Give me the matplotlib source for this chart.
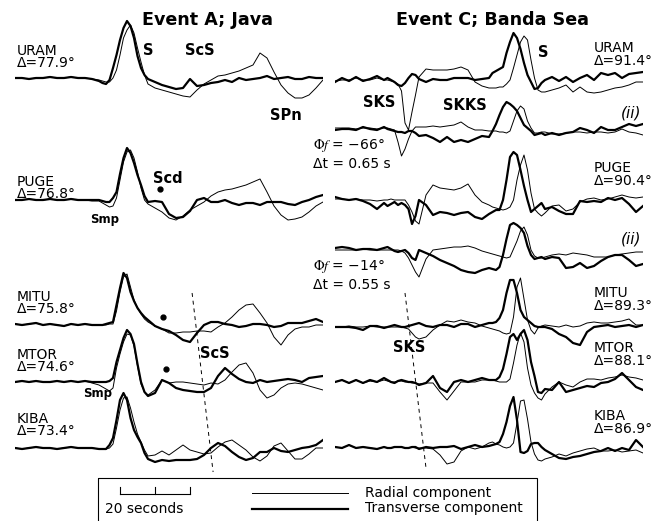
import numpy as np
import matplotlib
matplotlib.use('Agg')
import matplotlib.pyplot as plt
from matplotlib.patches import Rectangle

plt.rcParams['font.family'] = 'DejaVu Sans'
plt.rcParams['mathtext.fontset'] = 'stix'

# sample times (s) for the two events
t_a = [0, 2, 4, 6, 8, 10, 12, 14, 16, 18, 20, 22, 24, 25, 26, 27, 28, 29, 30, 31, 32, 33, 34, 35, 36, 37, 38,
       40, 42, 44, 46, 48, 50, 52, 54, 56, 58, 60, 62, 64, 66, 68, 70, 72, 74, 76, 78, 80, 82, 84, 86, 88]
t_c = [0, 2, 4, 6, 8, 10, 12, 14, 15, 16, 17, 18, 19, 20, 21, 22, 23, 24, 26, 28, 30, 32, 34, 36, 38, 40, 42, 44,
       45, 46, 47, 48, 49, 50, 51, 52, 53, 54, 55, 56, 57, 58, 59, 60, 62, 64, 66, 68, 70, 72, 74, 76, 78, 80, 82,
       84, 86, 88]

# ---- Event A; Java  (T = transverse, R = radial)
uram_a_T = [2,2,1,2,2,3,2,2,3,2,2,1,-1, -3,-4,0,12,25,40,52,59,54,42,24,12,5,1,
            -2,-5,-7,-9,-8,1,-6,-5,-3,-2,0,-2,2,0,1,2,4,1,2,3,1,1,3,2,2]
uram_a_R = [2,2,1,2,2,3,2,2,3,2,2,1,0, -1,-2,-2,2,10,25,42,50,55,47,32,18,5,-4,
            -8,-10,-12,-14,-16,-17,-10,-4,0,4,5,7,9,12,15,27,22,8,-5,-13,-18,-18,-15,-8,0]
puge_a_T = [0,0,1,0,0,1,0,0,1,0,0,0,0, -1,-2,-2,2,8,26,42,52,47,37,25,15,4,-2,
            -1,-2,-14,-18,-17,-11,0,2,-2,-2,0,-3,-5,-3,-3,-5,-2,-2,-2,-4,-5,-2,0,3,5]
puge_a_R = [0,0,1,0,0,1,0,0,1,0,0,-1,-1, -3,-5,-7,-6,2,20,38,48,50,42,28,12,0,-4,
            -8,-12,-18,-20,-16,-10,-6,-2,4,8,10,11,13,15,18,21,8,-6,-15,-20,-19,-17,-12,-6,-2]
mitu_a_T = [1,0,1,2,0,1,0,-1,1,0,1,0,0, 0,1,2,3,20,37,52,47,33,24,17,12,8,5,
            -1,-4,-6,-10,-15,-17,-8,0,3,3,1,0,-2,-1,1,1,0,-2,-1,2,2,2,4,6,3]
mitu_a_R = [1,0,1,2,0,1,0,-1,1,0,1,0,0, 0,0,1,1,14,33,48,51,38,25,17,11,6,3,
            -1,-4,-8,-8,-7,-7,-6,-6,-7,-2,2,8,15,20,21,12,2,-12,-20,-10,-4,-2,-2,0,0]
mtor_a_T = [0,1,0,1,0,0,1,0,1,0,1,0,0, 0,0,1,4,20,32,44,52,48,38,18,0,-10,-14,
            -11,2,-1,-6,-8,-9,-10,-10,-6,6,14,8,3,0,-1,2,0,1,2,3,2,0,4,5,6]
mtor_a_R = [0,1,0,1,0,0,1,0,1,0,1,-1,-3, -5,-7,-9,-6,14,28,40,48,47,36,16,-2,-10,-13,
            -8,2,-1,0,0,-1,-2,-3,-1,-2,2,10,17,19,9,-8,-16,-13,-6,-2,-1,-2,-4,-6,-8]
kiba_a_T = [0,-1,0,1,0,0,-1,0,1,0,0,0,-1, -1,-1,3,10,28,48,55,48,30,18,11,5,-5,-11,
            -14,-12,-13,-12,-12,-12,-11,-7,0,5,2,-4,-9,-12,-10,-4,-4,0,-3,-4,-2,0,1,3,8]
kiba_a_R = [0,-1,0,1,0,0,-1,0,1,0,0,0,-1, -1,-1,0,4,20,38,50,51,40,26,14,6,-2,-8,
            -7,-3,-7,-2,3,-2,-4,-6,-5,1,6,8,3,-2,-9,-13,-8,2,5,-3,-11,-11,-6,0,0]

# ---- Event C; Banda Sea
uram_c_T = [-2,2,-1,3,-1,1,4,0, 2,0,-2,-5,-6,-3,2,6,5,1, -2,1,0,0,2,2,2,0,1,2,
            7,9,11,13,27,38,47,42,31,17,5,-2,-9,-8,-3,0, 3,-1,3,-2,2,5,0,7,5,7,2,6,7,8]
uram_c_R = [-1,0,0,2,0,0,2,0, 0,-1,-2,-4,-11,-43,-50,-32,-15,3, 11,10,10,10,11,13,10,-2,-6,-8,
            -8,-8,-7,-7,-4,0,12,25,38,44,40,20,2,-10,-12,-12, -10,-8,-5,-12,-7,-12,-13,-12,-10,-8,-7,-5,-2,-2]
ii1_c_T = [-1,0,0,-1,2,0,-1,2, 0,-1,-2,-3,-3,-4,-2,-2,-4,-7, -6,-9,-13,-8,-13,-11,-13,-10,-7,-8,
           -2,5,14,22,27,25,22,18,11,4,1,-2,-6,-5,-4,-6, -4,-6,-4,-3,1,-1,-4,2,-1,-1,2,5,3,5]
ii1_c_R = [1,1,1,0,1,1,0,1, 1,0,-1,-13,-27,-20,-10,-2,2,2, 2,3,2,3,4,7,2,-1,-1,-2,
           -2,-2,-3,-3,-4,-2,8,18,23,20,8,1,-4,-4,-3,-3, -5,-5,-4,-3,-3,-4,-3,-3,-4,-3,0,-3,-4,-6]
puge_c_T = [3,1,0,1,-1,-4,-9,-3, -6,-4,-2,-5,-3,-5,-9,-24,-16,0, -5,-15,-12,-13,-15,-13,-12,-17,-19,-14,
            -12,-10,-10,0,20,43,48,45,30,14,0,-12,-9,-6,-3,-9, -7,-11,-14,-14,-1,-2,-1,-2,2,0,2,-4,-12,-6]
puge_c_R = [1,1,0,1,0,0,-1,0, 0,1,0,0,0,0,-5,-12,-21,-24, 5,15,12,11,10,12,16,5,-2,-5,
            -7,-8,-9,-10,-9,-7,0,20,35,45,30,7,-9,-13,-16,-13, -6,-5,-11,-9,-2,1,2,0,1,3,5,3,2,3]
ii2_c_T = [1,2,1,-1,0,0,-1,1, 2,0,-2,-3,-2,-1,-4,-9,-11,-1, -4,-7,-11,-14,-17,-21,-23,-24,-21,-19,
           -20,-21,-18,-6,10,24,26,24,21,16,3,-6,-10,-9,-8,-10, -8,-9,-19,-18,-14,-19,-17,-12,-8,-6,-6,-11,-17,-15]
ii2_c_R = [-1,-1,-1,-1,0,-1,-1,-1, -1,-1,-1,-1,-2,-4,-9,-16,-23,-28, -10,-1,0,1,2,2,3,1,-2,-4,
           -5,-6,-7,-8,-9,-8,0,8,18,22,14,-1,-7,-9,-9,-8, -6,-5,-6,-4,-5,-6,-8,-8,-8,-6,-5,-4,-3,-3]
mitu_c_T = [0,0,0,-1,-3,1,1,-1, 0,1,2,1,0,0,1,2,3,4, 1,0,2,2,0,3,3,0,2,4,
            4,5,9,17,34,47,47,34,17,10,7,4,1,0,0,0, -2,-7,-10,-16,-18,-5,0,1,2,0,1,2,0,2]
mitu_c_R = [0,0,1,0,0,1,0,0, 0,0,0,0,0,-1,-2,-6,-10,-12, -10,-3,2,6,5,7,5,4,1,-1,
            -2,-3,-4,-6,-7,-6,10,40,49,28,7,-3,-7,-1,1,2, 1,0,2,0,1,4,5,4,4,5,6,8,2,2]
mtor_c_T = [0,2,-1,2,-1,2,0,4, 2,0,-1,1,2,1,0,0,-1,-3, -1,6,-6,-10,0,2,0,2,4,2,
            2,2,5,13,28,45,48,42,48,52,42,20,6,-10,-11,-7, -8,0,-10,-8,-6,-4,-5,-1,0,3,9,2,-5,-8]
mtor_c_R = [0,2,-1,2,-1,1,0,2, 1,0,0,1,1,0,0,-1,-1,-2, -1,-1,-10,-18,-9,0,0,0,2,2,
            2,1,0,0,0,3,19,37,49,40,14,-3,-11,-16,-18,-12, -5,0,-3,-5,0,3,3,2,4,5,7,5,4,2]
kiba_c_T = [0,-1,2,-1,0,-1,-2,0, -1,-1,0,0,0,-1,-1,0,0,-2, 0,-1,0,0,1,-2,0,2,0,1,
            2,3,5,13,25,41,50,27,-5,-6,-4,3,4,4,0,-3, -7,-11,-12,-10,-9,-7,-5,-4,-1,-4,-1,-3,7,0]
kiba_c_R = [0,-1,2,-1,0,-1,-2,0, -1,-1,0,0,0,-1,-1,0,-1,-1, -1,-2,-8,-17,-15,-4,0,-2,0,4,
            5,3,2,0,-1,0,4,24,46,47,28,5,-7,-13,-14,-12, -10,-7,-9,-6,-4,-2,-1,-4,-4,-3,-5,-4,-3,-6]

stations_a = ['URAM', 'PUGE', 'MITU', 'MTOR', 'KIBA']
dist_a = ['77.9', '76.8', '75.8', '74.6', '73.4']
stations_c = ['URAM', 'PUGE', 'MITU', 'MTOR', 'KIBA']
dist_c = ['91.4', '90.4', '89.3', '88.1', '86.9']

# trace baselines (plot units, downwards)
base_a = [80, 200, 325, 382, 448]
base_c = [80, 129, 200, 249, 327, 382, 447]

W, H = 666, 521
fig = plt.figure(figsize=(W / 100, H / 100), dpi=100)

ax_a = fig.add_axes([15 / W, 0, 308 / W, 1])
ax_c = fig.add_axes([335 / W, 0, 308 / W, 1])
for ax in (ax_a, ax_c):
    ax.set_xlim(0, 88)
    ax.set_ylim(-H, 0)
    ax.axis('off')

thick = dict(color='black', lw=1.6, solid_joinstyle='round')
thin = dict(color='black', lw=0.7, solid_joinstyle='round')

traces_a = [(uram_a_T, uram_a_R), (puge_a_T, puge_a_R), (mitu_a_T, mitu_a_R),
            (mtor_a_T, mtor_a_R), (kiba_a_T, kiba_a_R)]
for (tr, rd), b in zip(traces_a, base_a):
    ax_a.plot(t_a, -b + np.array(rd), **thin)
    ax_a.plot(t_a, -b + np.array(tr), **thick)

traces_c = [(uram_c_T, uram_c_R), (ii1_c_T, ii1_c_R), (puge_c_T, puge_c_R), (ii2_c_T, ii2_c_R),
            (mitu_c_T, mitu_c_R), (mtor_c_T, mtor_c_R), (kiba_c_T, kiba_c_R)]
for (tr, rd), b in zip(traces_c, base_c):
    ax_c.plot(t_c, -b + np.array(rd), **thin)
    ax_c.plot(t_c, -b + np.array(tr), **thick)

# ScS / SKS alignment lines and Scd marks
ax_a.plot([50.6, 56.6], [-293, -472], color='black', lw=0.7, ls=(0, (4, 4)))
ax_c.plot([20, 26], [-293, -468], color='black', lw=0.7, ls=(0, (4, 4)))
ax_a.plot([41.4, 42.3, 43.1], [-189, -317, -369], 'o', color='black', ms=3.5)

# 20 s scale bar
ax_a.plot([30, 50], [-494, -494], color='black', lw=0.8)
for tk in [30, 40, 50]:
    ax_a.plot([tk, tk], [-494, -487], color='black', lw=0.8)

# overlay for text, in pixel units
ov = fig.add_axes([0, 0, 1, 1])
ov.set_xlim(0, W)
ov.set_ylim(H, 0)
ov.axis('off')

ov.text(207, 20, 'Event A; Java', ha='center', va='center', fontsize=12.6, fontweight='bold')
ov.text(493, 20, 'Event C; Banda Sea', ha='center', va='center', fontsize=12.6, fontweight='bold')

# multi-line text: baseline anchor is the last line
ya = [67, 198, 313, 371, 435]
for s, d, y in zip(stations_a, dist_a, ya):
    ov.text(17, y, s + '\n\u0394=' + d + '\u00b0', fontsize=10, va='baseline', linespacing=0.84)
yc = [65, 185, 310, 365, 433]
for s, d, y in zip(stations_c, dist_c, yc):
    ov.text(594, y, s + '\n\u0394=' + d + '\u00b0', fontsize=10, va='baseline', linespacing=0.88)

bold = dict(fontsize=10.5, fontweight='bold', va='baseline')
for x, y, s in [(143, 55, 'S'), (185, 55, 'ScS'), (270, 120, 'SPn'), (153, 183, 'Scd'),
                (200, 358, 'ScS'), (538, 57, 'S'), (363, 107, 'SKS'), (443, 110, 'SKKS'),
                (393, 352, 'SKS')]:
    ov.text(x, y, s, **bold)
for x, y in [(90, 223), (83, 397)]:
    ov.text(x, y, 'Smp', fontsize=8.5, fontweight='bold', va='baseline')

for y in [117, 243]:
    ov.text(621, y, '(ii)', fontsize=11, style='italic', va='baseline')

ov.text(313, 168, '$\\Phi f$ = \u221266\u00b0\n\u0394t = 0.65 s', fontsize=10, va='baseline',
        linespacing=1.3)
ov.text(313, 289, '$\\Phi f$ = \u221214\u00b0\n\u0394t = 0.55 s', fontsize=10, va='baseline',
        linespacing=1.3)

# legend box
ov.add_patch(Rectangle((98, 478), 439, 60, fill=False, ec='black', lw=0.8, clip_on=False))
ov.plot([252, 348], [493, 493], **thin)
ov.plot([252, 348], [509, 509], **thick)
ov.text(365, 512, 'Radial component\nTransverse component', fontsize=10, va='baseline',
        linespacing=1.08)
ov.text(105, 513, '20 seconds', fontsize=10, va='baseline')

fig.savefig('out.png', dpi=100)
